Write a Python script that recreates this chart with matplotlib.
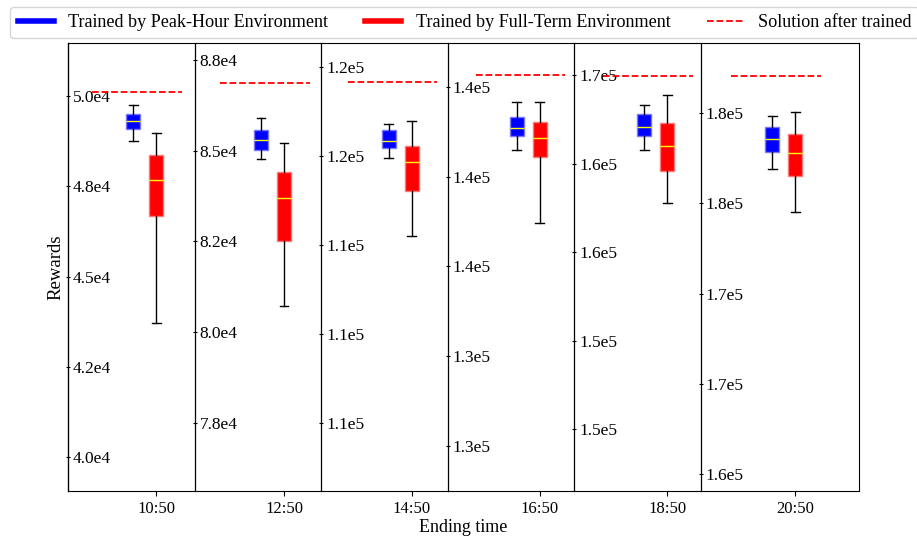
import matplotlib
matplotlib.use("Agg")
import matplotlib.pyplot as plt
from matplotlib.lines import Line2D

plt.rcParams["font.family"] = ["Liberation Serif", "DejaVu Serif"]

# ending times (one panel each)
times = ["10:50", "12:50", "14:50", "16:50", "18:50", "20:50"]

# reward of the solution after training (dashed line)
solution = [50120, 86860, 119560, 142840, 169960, 187070]

# box stats: whislo, q1, med, q3, whishi
peak_stats = [
    [48760, 49090, 49300, 49490, 49750],
    [84760, 85010, 85300, 85570, 85890],
    [117450, 117730, 117920, 118220, 118400],
    [140730, 141120, 141350, 141660, 142070],
    [165800, 166590, 167060, 167810, 168340],
    [181910, 182840, 183560, 184240, 184850],
]
full_stats = [
    [43710, 46670, 47680, 48380, 48970],
    [80730, 82510, 83700, 84400, 85220],
    [115250, 116520, 117320, 117770, 118490],
    [138720, 140540, 141070, 141530, 142070],
    [162770, 164610, 165990, 167320, 168900],
    [179510, 181510, 182800, 183850, 185090],
]

# per-panel y ranges and ticks
y_lims = [
    (39067, 51467),
    (75618, 87969),
    (108102, 120665),
    (131237, 143726),
    (146514, 171825),
    (164058, 188897),
]
y_ticks = [
    [40000, 42500, 45000, 47500, 50000],
    [77500, 80000, 82500, 85000, 87500],
    [110000, 112500, 115000, 117500, 120000],
    [132500, 135000, 137500, 140000, 142500],
    [150000, 155000, 160000, 165000, 170000],
    [165000, 170000, 175000, 180000, 185000],
]
y_ticklabels = [
    ["4.0e4", "4.2e4", "4.5e4", "4.8e4", "5.0e4"],
    ["7.8e4", "8.0e4", "8.2e4", "8.5e4", "8.8e4"],
    ["1.1e5", "1.1e5", "1.1e5", "1.2e5", "1.2e5"],
    ["1.3e5", "1.3e5", "1.4e5", "1.4e5", "1.4e5"],
    ["1.5e5", "1.5e5", "1.6e5", "1.6e5", "1.7e5"],
    ["1.6e5", "1.7e5", "1.7e5", "1.8e5", "1.8e5"],
]


def make_stats(vals):
    lo, q1, med, q3, hi = vals
    return {"whislo": lo, "q1": q1, "med": med, "q3": q3, "whishi": hi}


fig = plt.figure(figsize=(9.17, 5.36), dpi=100)
ax = fig.add_axes([0.0742, 0.084, 0.8626, 0.8358])

for i in range(len(times)):
    tw = ax.twinx()
    for side in ["top", "bottom", "left"]:
        tw.spines[side].set_visible(False)
    tw.spines["right"].set_position(("axes", 0.16 * i))
    tw.spines["right"].set_linewidth(0.9)

    tw.bxp([make_stats(peak_stats[i])], positions=[i - 0.18], widths=0.11,
           capwidths=0.07, patch_artist=True, showfliers=False, manage_ticks=False,
           boxprops=dict(facecolor="blue", edgecolor="#7878ff", linewidth=1),
           medianprops=dict(color="yellow", linewidth=1),
           whiskerprops=dict(color="black", linewidth=1),
           capprops=dict(color="black", linewidth=1))
    tw.bxp([make_stats(full_stats[i])], positions=[i], widths=0.11,
           capwidths=0.07, patch_artist=True, showfliers=False, manage_ticks=False,
           boxprops=dict(facecolor="red", edgecolor="#ff7878", linewidth=1),
           medianprops=dict(color="yellow", linewidth=1),
           whiskerprops=dict(color="black", linewidth=1),
           capprops=dict(color="black", linewidth=1))
    tw.hlines(solution[i], i - 0.5, i + 0.2, colors="red", linestyles="dashed", linewidth=1.3)

    tw.set_ylim(*y_lims[i])
    tw.set_yticks(y_ticks[i], y_ticklabels[i])
    tw.tick_params(axis="y", direction="inout", length=3, pad=2, labelsize=12.5)

ax.set_xlim(-0.69, 5.5)
ax.set_xticks(range(len(times)), times)
ax.tick_params(axis="x", labelsize=12)
ax.set_yticks([])
ax.set_xlabel("Ending time", fontsize=13, labelpad=2)
ax.set_ylabel("Rewards", fontsize=13.5, labelpad=2.5)

handles = [
    Line2D([], [], color="blue", linewidth=4),
    Line2D([], [], color="red", linewidth=4),
    Line2D([], [], color="red", linestyle="dashed", linewidth=1.3),
]
labels = ["Trained by Peak-Hour Environment", "Trained by Full-Term Environment",
          "Solution after trained"]
fig.legend(handles, labels, loc="center", bbox_to_anchor=(0.5065, 0.958), ncol=3,
           fontsize=13.1, frameon=True)

fig.savefig("out.png", dpi=100)
